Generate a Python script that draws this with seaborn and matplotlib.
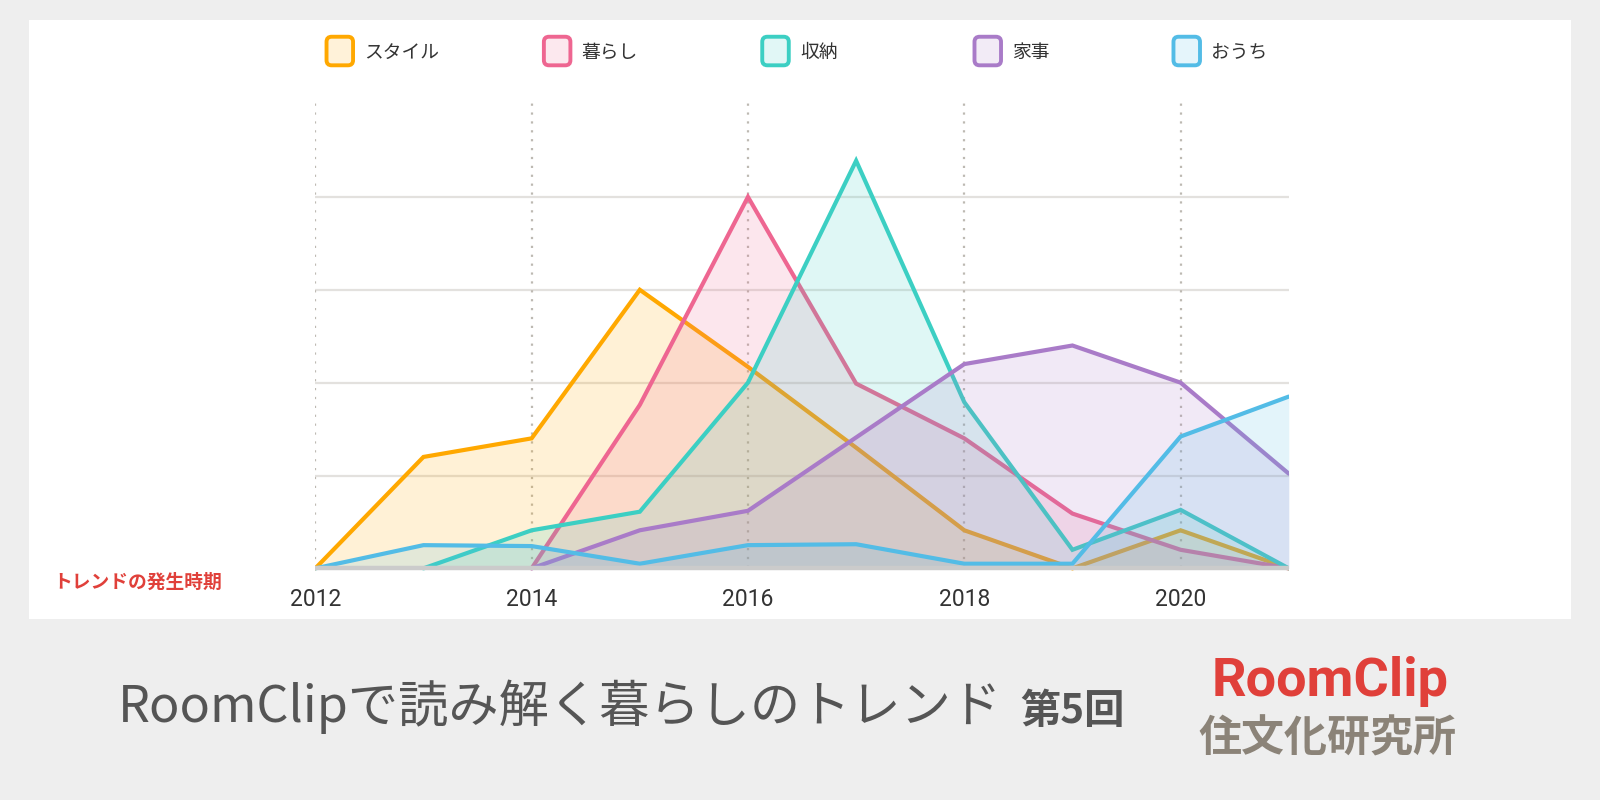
import numpy as np
import pandas as pd
import matplotlib
matplotlib.use("Agg")
import matplotlib.pyplot as plt
import seaborn as sns
from matplotlib.patches import FancyBboxPatch, Rectangle

# ---------------- data ----------------
years = [2012, 2013, 2014, 2015, 2016, 2017, 2018, 2019, 2020, 2021]
series_names = ["スタイル", "暮らし", "収納", "家事", "おうち"]
style_vals   = [0.0, 1.2, 1.4, 3.0, 2.17, 1.3, 0.41, 0.0, 0.41, 0.0]
kurashi_vals = [np.nan, np.nan, 0.0, 1.76, 4.0, 1.99, 1.4, 0.59, 0.2, 0.0]
shuno_vals   = [np.nan, 0.0, 0.41, 0.61, 2.0, 4.39, 1.79, 0.2, 0.63, 0.0]
kaji_vals    = [np.nan, np.nan, 0.0, 0.41, 0.62, 1.41, 2.2, 2.4, 2.0, 1.02]
ouchi_vals   = [0.0, 0.25, 0.24, 0.05, 0.25, 0.26, 0.05, 0.05, 1.42, 1.85]
line_colors  = ["#ffa800", "#ee6691", "#3ccfc3", "#a97bc8", "#53bce6"]
x_ticks      = [2012, 2014, 2016, 2018, 2020]
x_tick_labels = ["2012", "2014", "2016", "2018", "2020"]
title_main   = "RoomClipで読み解く暮らしのトレンド"
title_sub    = "第5回"
note_text    = "トレンドの発生時期"
logo_top     = "RoomClip"
logo_bottom  = "住文化研究所"

all_vals = [style_vals, kurashi_vals, shuno_vals, kaji_vals, ouchi_vals]
df = pd.concat([
    pd.DataFrame({"year": years, "value": v, "series": n})
    for n, v in zip(series_names, all_vals)
], ignore_index=True)

# ---------------- style ----------------
sns.set_theme(style="white")
plt.rcParams['font.family'] = ['Noto Sans CJK JP', 'DejaVu Sans']

W, H = 1568, 784
fig = plt.figure(figsize=(16, 8), dpi=100, facecolor="#eeeeee")
S = 16 / W
def X(x): return x * S
def Y(y): return (H - y) * S
T = fig.dpi_scale_trans

# white panel
fig.patches.append(Rectangle((X(28), Y(607)), X(1540) - X(28), Y(20) - Y(607),
                             transform=T, facecolor="white", edgecolor="none", zorder=-5))

# axes
ax_left, ax_right, ax_top, ax_bot = 309, 1263, 100, 560
ax = fig.add_axes([ax_left / W, 1 - ax_bot / H, (ax_right - ax_left) / W, (ax_bot - ax_top) / H])
ax.set_zorder(2)
ax.set_facecolor("none")
for sp in ax.spines.values():
    sp.set_visible(False)

ymax = (557 - 100) / 91.0
ax.set_xlim(2012, 2021)
ax.set_ylim(-0.033, ymax)

# grid
for g in [1, 2, 3, 4]:
    ax.axhline(g, color="#e3e1de", lw=1.6, zorder=1)
for xt in x_ticks:
    ax.plot([xt, xt], [0, ymax], color="#bdb9b2", lw=1.6, ls=(0, (1, 3)), zorder=1)

# series
for i, (name, col) in enumerate(zip(series_names, line_colors)):
    d = df[(df["series"] == name) & df["value"].notna()]
    ax.fill_between(d["year"], 0, d["value"], color=col, alpha=0.16, lw=0, zorder=2 + 2 * i)
    sns.lineplot(data=d, x="year", y="value", color=col, lw=3.0, ax=ax,
                 zorder=3 + 2 * i, legend=False, solid_joinstyle="miter")

ax.axhline(0, color="#cbcbcb", lw=3.2, zorder=20)

ax.set_xticks(x_ticks)
ax.set_xticklabels(x_tick_labels, family="Roboto", fontsize=16.5, color="#333333")
ax.set_yticks([])
ax.tick_params(axis="x", length=0, pad=12)
ax.set_xlabel("")
ax.set_ylabel("")

# legend
leg_x = [333, 546, 760, 968, 1163]
for name, col, lx in zip(series_names, line_colors, leg_x):
    bw, bh = 20, 22
    box = FancyBboxPatch((X(lx - bw / 2), Y(50 + bh / 2)), bw * S, bh * S,
                         boxstyle=f"round,pad={3 * S},rounding_size={5 * S}",
                         transform=T, facecolor=matplotlib.colors.to_rgba(col, 0.15),
                         edgecolor=col, lw=2.8, zorder=5)
    fig.patches.append(box)
    fig.text(X(lx + 24), Y(51), name, transform=T, fontsize=13.5, color="#333333",
             va="center", ha="left")

# note
fig.text(X(52), Y(571), note_text, transform=T, fontsize=13.5, color="#e0403a",
         fontweight="bold", va="center", ha="left")

# title
fig.text(X(116), Y(693), title_main, transform=T, fontsize=36.2, color="#555555",
         va="center", ha="left")
fig.text(X(1000), Y(697), title_sub, transform=T, fontsize=29, color="#555555",
         fontweight="bold", va="center", ha="left")

# logo
fig.text(X(1304), Y(668), logo_top, transform=T, fontsize=39, color="#e0403a",
         fontweight="bold", va="center", ha="center", family=["Roboto", "DejaVu Sans"])
fig.text(X(1301), Y(724), logo_bottom, transform=T, fontsize=31, color="#8b8378",
         fontweight="bold", va="center", ha="center")

fig.savefig("out.png", dpi=100, facecolor=fig.get_facecolor())
